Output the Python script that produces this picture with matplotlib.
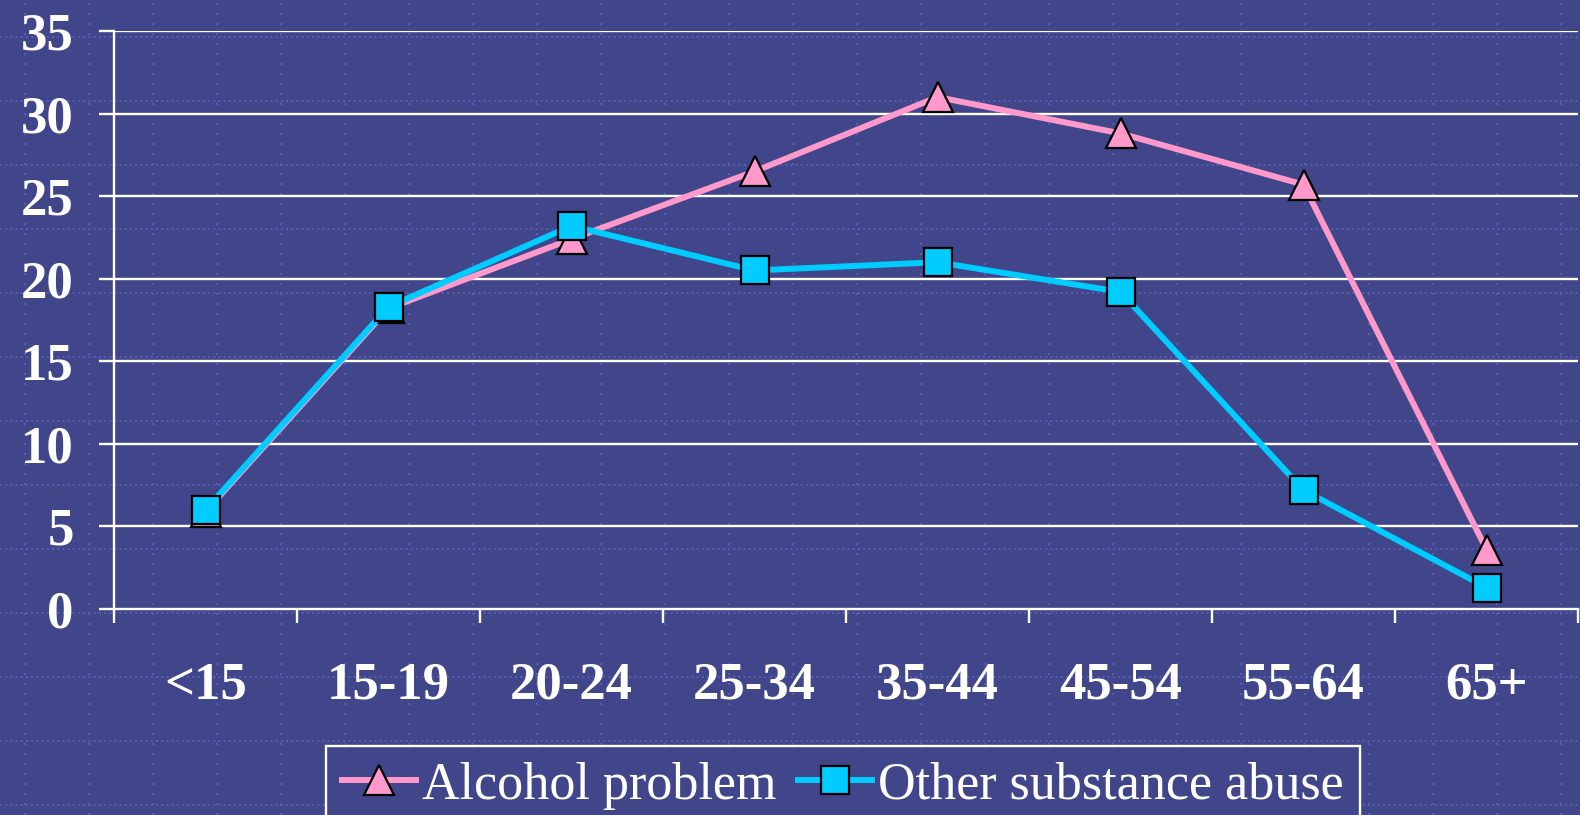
import numpy as np
import matplotlib.pyplot as plt
from matplotlib.lines import Line2D

# age groups and percentages
ages = ['<15', '15-19', '20-24', '25-34', '35-44', '45-54', '55-64', '65+']
alcohol = [5.9, 18.2, 22.4, 26.5, 31.0, 28.8, 25.7, 3.6]
other = [6.0, 18.3, 23.2, 20.5, 21.0, 19.2, 7.2, 1.3]
yticks = [0, 5, 10, 15, 20, 25, 30, 35]

bg = '#41468b'
dots = '#575db3'
pink = '#ff99cc'
cyan = '#00ccff'

W, H = 1580, 815
fig = plt.figure(figsize=(W / 100, H / 100), dpi=100, facecolor=bg)

# dotted backdrop over the whole slide
back = fig.add_axes([0, 0, 1, 1], zorder=0)
back.set_xlim(0, W)
back.set_ylim(H, 0)
back.axis('off')
for gx in np.arange(25, W, 64):
    back.axvline(gx, color=dots, lw=1.44, ls=(0, (1, 4)))
for gy in np.arange(37, H, 64):
    back.axhline(gy, color=dots, lw=1.44, ls=(0, (1, 1.6)))

ax = fig.add_axes([114 / W, 1 - 609 / H, (1578 - 114) / W, (609 - 31) / H], zorder=1)
ax.set_facecolor('none')

x = np.arange(len(ages)) + 0.5
ax.plot(x, alcohol, color=pink, lw=4.3, marker='^', ms=21, mfc=pink, mec='black', mew=1.6,
        label='Alcohol problem', zorder=3, clip_on=False)
ax.plot(x, other, color=cyan, lw=4.3, marker='s', ms=20, mfc=cyan, mec='black', mew=1.6,
        label='Other substance abuse', zorder=4, clip_on=False)

ax.set_xlim(0, len(ages))
ax.set_ylim(0, 35)
ax.set_yticks(yticks)
for yv in yticks[1:]:
    ax.axhline(yv, color='white', lw=1.7, zorder=1)

ax.set_xticks(np.arange(len(ages) + 1))
ax.set_xticklabels([])
ax.set_xticks(x, minor=True)
ax.set_xticklabels(ages, minor=True)

for lab in ax.get_yticklabels() + ax.get_xticklabels(minor=True):
    lab.set_fontfamily('Liberation Serif')
    lab.set_fontweight('bold')
    lab.set_fontsize(38)
    lab.set_color('white')

ax.tick_params(axis='y', which='major', length=11, width=1.7, color='white', pad=18)
ax.tick_params(axis='x', which='major', length=10, width=1.7, color='white')
ax.tick_params(axis='x', which='minor', length=0, pad=38)

for s in ['top', 'right']:
    ax.spines[s].set_visible(False)
for s in ['left', 'bottom']:
    ax.spines[s].set_color('white')
    ax.spines[s].set_linewidth(1.7)

h1 = Line2D([], [], color=pink, lw=4.3, marker='^', ms=21, mfc=pink, mec='black', mew=1.6)
h2 = Line2D([], [], color=cyan, lw=4.3, marker='s', ms=20, mfc=cyan, mec='black', mew=1.6)
leg = fig.legend([h1, h2], ['Alcohol problem', 'Other substance abuse'],
                 loc='upper left', bbox_to_anchor=(326 / W, 1 - 746 / H), borderaxespad=0,
                 ncol=2, frameon=True, fancybox=False, facecolor=bg, edgecolor='white',
                 framealpha=1, handlelength=1.42, handletextpad=0.12, columnspacing=0.42,
                 borderpad=0.3, prop={'family': 'Liberation Serif', 'size': 37.5})
leg.get_frame().set_linewidth(1.7)
for t in leg.get_texts():
    t.set_color('white')

fig.savefig('out.png', dpi=100, facecolor=bg)
